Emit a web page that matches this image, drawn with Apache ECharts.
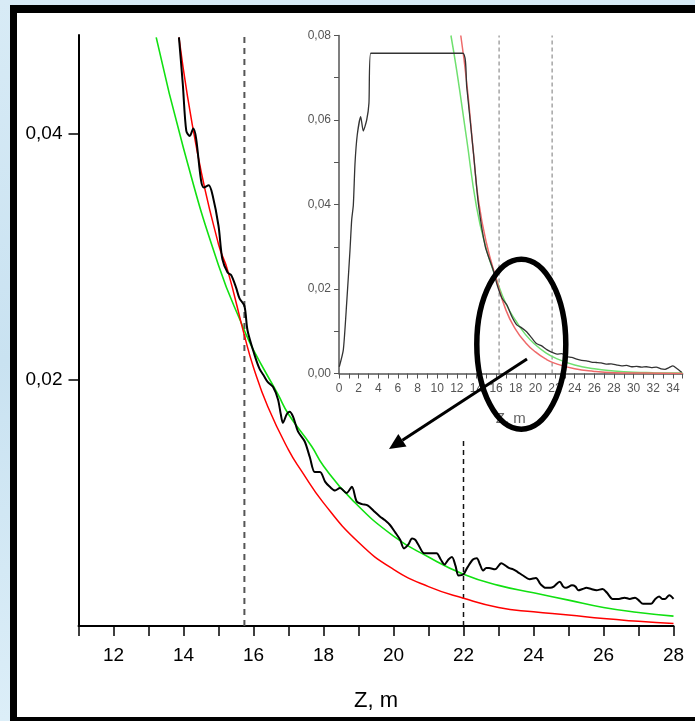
<!DOCTYPE html>
<html><head><meta charset="utf-8">
<script src="https://cdn.jsdelivr.net/npm/echarts@6/dist/echarts.min.js"></script>
<style>
html,body{margin:0;padding:0;width:695px;height:721px;overflow:hidden;background:linear-gradient(180deg,#d8ebf6,#c9e2f1 50%,#dceef8);}
#frame{position:absolute;left:10px;top:5px;width:685px;height:716px;background:#000;}
#inner{position:absolute;left:17px;top:13px;width:678px;height:704px;background:#fff;}
#chart{position:absolute;left:0;top:0;width:695px;height:721px;}
</style></head><body>
<div id="frame"></div><div id="inner"></div><div id="chart"></div>
<script>
// ---------- main chart data ----------
const mainXTicks = [11,12,13,14,15,16,17,18,19,20,21,22,23,24,25,26,27,28];
const mainXLabels = [12,14,16,18,20,22,24,26,28];
const mainYTicks = [0.02,0.04];
const mainYLabels = ['0,02','0,04'];
const mainXName = 'Z, m';

const mainBlack = [[13.87,0.0478],[13.98,0.0440],[14.08,0.0402],[14.18,0.0398],[14.28,0.0404],[14.36,0.0396],[14.5,0.0362],[14.58,0.0356],[14.72,0.0358],[14.83,0.0350],[15.0,0.0325],[15.11,0.0298],[15.26,0.0287],[15.36,0.0285],[15.5,0.0275],[15.6,0.0266],[15.74,0.0260],[15.83,0.0240],[16.02,0.0221],[16.17,0.0209],[16.3,0.0203],[16.41,0.0198],[16.56,0.0194],[16.70,0.0184],[16.78,0.0172],[16.84,0.0165],[16.95,0.0172],[17.03,0.0174],[17.13,0.0170],[17.27,0.0158],[17.46,0.0150],[17.61,0.0137],[17.75,0.0125],[17.9,0.0125],[18.05,0.0117],[18.18,0.0113],[18.33,0.0110],[18.47,0.0112],[18.66,0.0108],[18.81,0.0113],[18.95,0.0101],[19.1,0.0099],[19.26,0.0098],[19.45,0.0093],[19.61,0.0089],[19.75,0.0086],[19.9,0.0082],[20.05,0.0076],[20.19,0.0070],[20.30,0.0063],[20.42,0.0066],[20.53,0.0071],[20.62,0.0070],[20.71,0.0066],[20.88,0.0059],[21.05,0.0059],[21.23,0.0059],[21.35,0.0054],[21.46,0.0050],[21.57,0.0054],[21.67,0.0056],[21.77,0.0049],[21.86,0.0041],[22.0,0.0042],[22.1,0.0047],[22.27,0.0054],[22.38,0.0055],[22.47,0.0050],[22.56,0.0045],[22.65,0.0047],[22.73,0.0047],[22.9,0.0046],[23.08,0.0051],[23.2,0.0049],[23.31,0.0047],[23.42,0.0046],[23.54,0.0044],[23.7,0.0041],[23.89,0.0038],[24.07,0.0039],[24.2,0.0034],[24.35,0.0031],[24.48,0.0031],[24.58,0.0032],[24.75,0.0036],[24.85,0.0032],[24.93,0.0031],[25.10,0.0033],[25.2,0.0032],[25.28,0.0029],[25.4,0.0030],[25.51,0.0031],[25.65,0.0030],[25.8,0.0029],[25.97,0.0030],[26.1,0.0027],[26.26,0.0022],[26.44,0.0022],[26.6,0.0023],[26.75,0.0022],[26.9,0.0023],[27.0,0.0021],[27.13,0.0018],[27.25,0.0018],[27.36,0.0018],[27.48,0.0022],[27.59,0.0024],[27.68,0.0022],[27.76,0.0022],[27.88,0.0025],[28.0,0.0022]];
const mainRed = [[13.87,0.0478],[14.4,0.0384],[15.0,0.0310],[15.26,0.0289],[15.74,0.0236],[16.0,0.0210],[16.41,0.0178],[17.0,0.0143],[17.37,0.0126],[18.0,0.0100],[19.0,0.0068],[20.0,0.0046],[21.0,0.0032],[22.0,0.00225],[23.0,0.0015],[24.0,0.00115],[25.0,0.0009],[26.0,0.0006],[27.0,0.00038],[28.0,0.0002]];
const mainGreen = [[13.22,0.0478],[14.0,0.0388],[15.0,0.0293],[15.74,0.0240],[16.0,0.0224],[16.7,0.0188],[17.0,0.0172],[17.66,0.0146],[18.0,0.0130],[18.8,0.0103],[20.0,0.0073],[21.0,0.0056],[22.0,0.0042],[23.0,0.0033],[24.0,0.0027],[25.0,0.0021],[26.0,0.0015],[27.0,0.0011],[28.0,0.0008]];
const mainDashX = [15.74, 22.0];
const mainDashTop = [0.048, 0.0151];

// ---------- inset data ----------
const insetXTicks = [0,1,2,3,4,5,6,7,8,9,10,11,12,13,14,15,16,17,18,19,20,21,22,23,24,25,26,27,28,29,30,31,32,33,34,35];
const insetXLabels = [0,2,4,6,8,10,12,14,16,18,20,22,24,26,28,30,32,34];
const insetYTicks = [0,0.01,0.02,0.03,0.04,0.05,0.06,0.07,0.08];
const insetYLabels = ['0,00','0,02','0,04','0,06','0,08'];
const insetYLabelValues = [0,0.02,0.04,0.06,0.08];
const insetXName = 'Z, m';

const insetBlack = [[0.03,0.0016],[0.44,0.0056],[0.78,0.0166],[1.12,0.0292],[1.29,0.0363],[1.46,0.0399],[1.63,0.0497],[1.86,0.0565],[2.21,0.0608],[2.47,0.0574],[2.82,0.0600],[3.05,0.0640],[3.23,0.0758],[12.6,0.0758],[13.0,0.0680],[13.7,0.0520],[14.2,0.0400],[14.9,0.0300],[15.7,0.0245],[16.1,0.0210],[16.6,0.0178],[17.1,0.0162],[17.6,0.0135],[18.1,0.0115],[18.6,0.0108],[19.1,0.0099],[19.6,0.0085],[20.1,0.0071],[20.6,0.0066],[21.2,0.0056],[21.7,0.0050],[22.2,0.0046],[22.7,0.0047],[23.2,0.0040],[23.7,0.0038],[24.2,0.0034],[24.7,0.0031],[25.2,0.0030],[25.7,0.0027],[26.2,0.0026],[26.7,0.0025],[27.2,0.0022],[27.7,0.0023],[28.3,0.0020],[28.8,0.0018],[29.3,0.0019],[29.8,0.0016],[30.3,0.0017],[30.8,0.0015],[31.3,0.0016],[31.8,0.0014],[32.3,0.0015],[32.8,0.0011],[33.2,0.0010],[33.6,0.0014],[34.0,0.0018],[34.4,0.0012],[34.9,0.0003]];
const insetRed = [[12.4,0.080],[13.0,0.069],[13.7,0.052],[14.2,0.041],[15.0,0.031],[16.0,0.0225],[17.0,0.0150],[18.0,0.0104],[19.0,0.0073],[20.0,0.0051],[21.0,0.0035],[22.0,0.0024],[24.0,0.0011],[26.0,0.0005],[28.0,0.0002],[31.0,0.0001],[35.0,0.0]];
const insetGreen = [[11.4,0.080],[12.0,0.0715],[13.0,0.0555],[14.0,0.0395],[15.0,0.0295],[16.0,0.0225],[17.0,0.0165],[18.0,0.0125],[19.0,0.0092],[20.0,0.0068],[21.0,0.0050],[22.0,0.0037],[24.0,0.0020],[26.0,0.0011],[28.0,0.0006],[30.0,0.0003],[32.0,0.0002],[35.0,0.0001]];
const insetDashX = [16.3, 21.7];
const insetDashTop = 0.08;

// ---------- chart ----------
const FONT = "'Liberation Sans',Arial,sans-serif";
const chart = echarts.init(document.getElementById('chart'), null, {renderer:'canvas'});

function dashSeries(x, top, xi, yi, color, width, dash) {
  return {type:'line', xAxisIndex:xi, yAxisIndex:yi, data:[[x,0],[x,top]], showSymbol:false, symbol:'none', silent:true,
    lineStyle:{color:color, width:width, type:dash}, z:1};
}

const series = [
  dashSeries(mainDashX[0], mainDashTop[0], 0, 0, '#555', 2, [6,5]),
  dashSeries(mainDashX[1], mainDashTop[1], 0, 0, '#111', 1.5, [5,4]),
  {type:'line', xAxisIndex:0, yAxisIndex:0, data:mainGreen, smooth:0.5, symbol:'none', lineStyle:{color:'#11e011', width:1.6}, z:3},
  {type:'line', xAxisIndex:0, yAxisIndex:0, data:mainRed, smooth:0.5, symbol:'none', lineStyle:{color:'#ff0000', width:1.5}, z:3},
  {type:'line', xAxisIndex:0, yAxisIndex:0, data:mainBlack, smooth:0.3, symbol:'none', lineStyle:{color:'#000', width:2}, z:4},
  dashSeries(insetDashX[0], insetDashTop, 1, 1, '#777', 1, [4,3]),
  dashSeries(insetDashX[1], insetDashTop, 1, 1, '#777', 1, [4,3]),
  {type:'line', xAxisIndex:1, yAxisIndex:1, data:insetGreen, smooth:0.5, symbol:'none', lineStyle:{color:'#6fe06f', width:1.5}, z:3},
  {type:'line', xAxisIndex:1, yAxisIndex:1, data:insetRed, smooth:0.5, symbol:'none', lineStyle:{color:'#ee6a6a', width:1.5}, z:3},
  {type:'line', xAxisIndex:1, yAxisIndex:1, data:insetBlack, smooth:0.2, symbol:'none', lineStyle:{color:'#333', width:1.3}, z:4}
];

// annotation: ellipse + arrow
const arrowStart = [527, 359], arrowTip = [389, 449];
const dx = arrowTip[0]-arrowStart[0], dy = arrowTip[1]-arrowStart[1];
const L = Math.sqrt(dx*dx+dy*dy), ux = dx/L, uy = dy/L;
const headLen = 16, headHalf = 7.5;
const base = [arrowTip[0]-headLen*ux, arrowTip[1]-headLen*uy];
const nx = -uy, ny = ux;

chart.setOption({
  backgroundColor:'transparent',
  animation:false,
  grid:[
    {left:78.5, right:21.5, top:34.9, bottom:95, containLabel:false},
    {left:339, right:12.3, top:35.5, bottom:347.5, containLabel:false}
  ],
  xAxis:[
    {type:'value', gridIndex:0, min:11, max:28, interval:1,
     name:mainXName, nameLocation:'middle', nameGap:64,
     nameTextStyle:{color:'#000', fontSize:22, fontFamily:FONT},
     axisLine:{show:true, onZero:false, lineStyle:{color:'#000', width:2}},
     axisTick:{show:true, length:10, inside:false, customValues:mainXTicks, lineStyle:{color:'#000', width:1.5}},
     axisLabel:{show:true, customValues:mainXLabels, margin:20, color:'#000', fontSize:19, fontFamily:FONT,
       formatter:v=>String(v)},
     splitLine:{show:false}},
    {type:'value', gridIndex:1, min:0, max:35, interval:1,
     name:insetXName, nameLocation:'middle', nameGap:38,
     nameTextStyle:{color:'#666', fontSize:15, fontFamily:FONT},
     axisLine:{show:true, onZero:false, lineStyle:{color:'#555', width:1.5}},
     axisTick:{show:true, length:5, customValues:insetXTicks, lineStyle:{color:'#555', width:1}},
     axisLabel:{show:true, customValues:insetXLabels, margin:9, color:'#555', fontSize:12, fontFamily:FONT,
       formatter:v=>String(v)},
     splitLine:{show:false}}
  ],
  yAxis:[
    {type:'value', gridIndex:0, min:0, max:0.048, interval:0.02,
     axisLine:{show:true, onZero:false, lineStyle:{color:'#000', width:2}},
     axisTick:{show:true, length:10, customValues:mainYTicks, lineStyle:{color:'#000', width:1.5}},
     axisLabel:{show:true, customValues:mainYTicks, margin:16, color:'#000', fontSize:19, fontFamily:FONT,
       formatter:v=>mainYLabels[mainYTicks.indexOf(v)] || ''},
     splitLine:{show:false}},
    {type:'value', gridIndex:1, min:0, max:0.08, interval:0.01,
     axisLine:{show:true, onZero:false, lineStyle:{color:'#555', width:1.5}},
     axisTick:{show:true, length:5, customValues:insetYTicks, lineStyle:{color:'#555', width:1}},
     axisLabel:{show:true, customValues:insetYLabelValues, margin:8, color:'#555', fontSize:12, fontFamily:FONT,
       formatter:v=>{const i = insetYLabelValues.findIndex(t=>Math.abs(t-v)<1e-9); return i>=0 ? insetYLabels[i] : '';}},
     splitLine:{show:false}}
  ],
  series:series,
  graphic:[
    {type:'ellipse', z:100, shape:{cx:521.3, cy:344.2, rx:44.5, ry:85}, style:{fill:'none', stroke:'#000', lineWidth:5.5}},
    {type:'line', z:100, shape:{x1:arrowStart[0], y1:arrowStart[1], x2:base[0], y2:base[1]}, style:{stroke:'#000', lineWidth:3}},
    {type:'polygon', z:100, shape:{points:[arrowTip, [base[0]+headHalf*nx, base[1]+headHalf*ny], [base[0]-headHalf*nx, base[1]-headHalf*ny]]}, style:{fill:'#000'}}
  ]
});
</script></body></html>
